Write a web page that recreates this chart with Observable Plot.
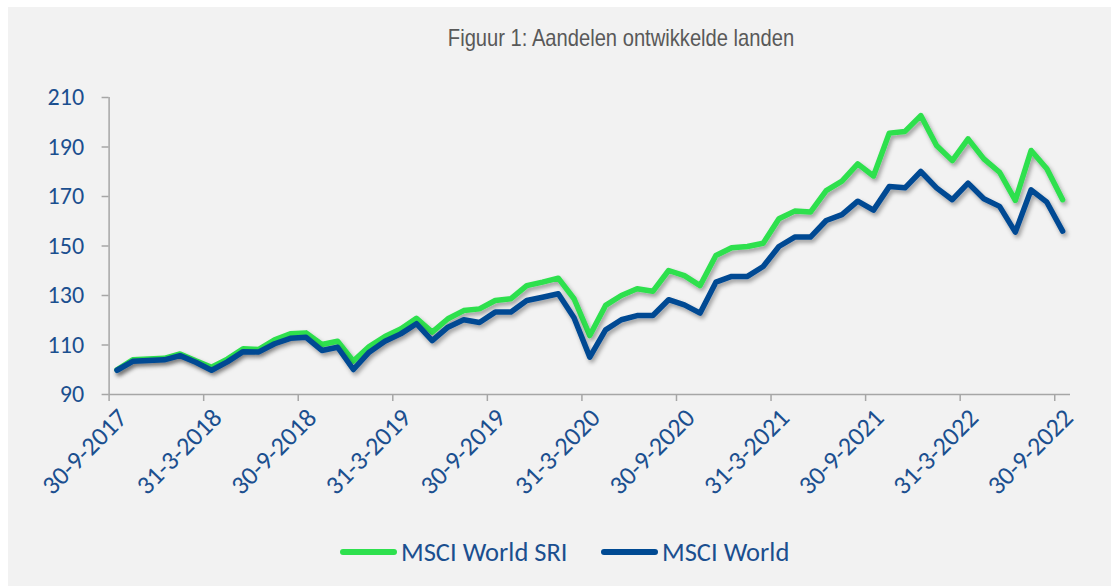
<!DOCTYPE html>
<html><head><meta charset="utf-8">
<script src="https://cdn.jsdelivr.net/npm/d3@7"></script>
<script src="https://cdn.jsdelivr.net/npm/@observablehq/plot@0.6"></script>
<style>
html,body{margin:0;padding:0;background:#fff;width:1111px;height:586px;overflow:hidden;}
#frame{position:absolute;left:8px;top:7px;width:1103px;height:579px;background:#f2f2f2;}
#title{position:absolute;left:621px;top:24px;transform:translateX(-50%) scaleX(0.84);white-space:nowrap;font-family:"Liberation Sans",Arial,sans-serif;font-size:24px;color:#595959;}
#chart{position:absolute;left:0;top:0;}
#legend{position:absolute;top:0;left:0;font-family:Carlito,Lato,"Open Sans",sans-serif;font-size:26.5px;color:#1b4f8f;}
.item{position:absolute;top:536px;display:flex;align-items:center;white-space:nowrap;}
.sw{width:57px;height:6px;border-radius:3px;margin-right:4px;}
</style></head>
<body>
<div id="frame"></div>
<div id="title">Figuur 1: Aandelen ontwikkelde landen</div>
<div id="chart"></div>
<div id="legend"></div>
<script>
const seriesNames = ["MSCI World SRI", "MSCI World"];
const seriesColors = ["#2ee04e", "#004a93"];
const tickLabels = ["30-9-2017","31-3-2018","30-9-2018","31-3-2019","30-9-2019","31-3-2020","30-9-2020","31-3-2021","30-9-2021","31-3-2022","30-9-2022"];
const yTicks = [90,110,130,150,170,190,210];
const sri = [100,104,104.3,104.6,106.4,103.6,101,104.3,108.5,108.2,112.1,114.5,114.9,110.2,111.5,103.5,109.4,113.4,116.5,120.8,115.2,120.6,123.9,124.6,128,128.7,134,135.4,137,128.7,113.8,126,130,132.7,131.7,140.1,138,134,146.2,149.3,149.8,151.1,161,164.1,163.7,172.4,176.2,183.2,178.3,195.6,196.3,202.7,190.6,184.5,193.3,185.2,179.8,168.4,188.6,181.2,168.7];
const world = [99.8,103.4,103.7,104,105.7,103,99.8,103.2,107.3,107.2,110.5,112.7,113.1,107.8,109.1,100.1,107.1,111.5,114.5,118.6,111.8,117.2,120.2,119.1,123.3,123.3,128,129.3,130.7,121,105.1,116.1,120.2,121.9,121.9,128.3,126.2,122.9,135.4,137.7,137.7,141.7,149.8,153.6,153.6,160.3,162.7,168.1,164.5,174,173.5,180.1,173.5,168.7,175.4,169.1,166,155.6,172.7,167.7,156];

const n = sri.length;
const tickIdx = tickLabels.map((_, k) => k * 6);
const grey = "#a6a6a6";
const textColor = "#1b4f8f";
const font = "Carlito, Lato, 'Open Sans', sans-serif";

const svg = Plot.plot({
  width: 1111, height: 500,
  marginTop: 97, marginBottom: 106, marginLeft: 108.6, marginRight: 41,
  x: {domain: [-0.5, n - 0.5]},
  y: {domain: [90, 210]},
  style: {background: "transparent", fontFamily: font, fontSize: "24px", color: textColor, overflow: "visible"},
  marks: [
    Plot.axisY({ticks: yTicks, tickSize: 7, tickPadding: 18, stroke: grey, strokeWidth: 1.5, fill: textColor, fontSize: 24, label: null}),
    Plot.axisX({ticks: tickIdx.map(i => i - 0.5), tickSize: 7, tickFormat: () => "", stroke: grey, strokeWidth: 1.5, label: null}),
    Plot.axisX({ticks: tickIdx, tickSize: 0, tickPadding: 19, tickRotate: -45, tickFormat: d => tickLabels[Math.round(d / 6)], fill: textColor, fontSize: 26, dx: 6, label: null}),
    Plot.ruleY([90], {stroke: grey, strokeWidth: 1.5}),
    Plot.ruleX([-0.5], {stroke: grey, strokeWidth: 1.5}),
    Plot.line(sri, {x: (d, i) => i, y: d => d, stroke: seriesColors[0], strokeWidth: 5.5, strokeLinejoin: "round", strokeLinecap: "round"}),
    Plot.line(world, {x: (d, i) => i, y: d => d, stroke: seriesColors[1], strokeWidth: 5.5, strokeLinejoin: "round", strokeLinecap: "round"})
  ]
});
const s = d3.select(svg);
const f = s.insert("defs", ":first-child").append("filter").attr("id", "sh")
  .attr("x", "-10%").attr("y", "-10%").attr("width", "120%").attr("height", "130%");
f.append("feDropShadow").attr("dx", 2).attr("dy", 3).attr("stdDeviation", 2)
  .attr("flood-color", "#000").attr("flood-opacity", 0.35);
s.selectAll('g[aria-label="line"]').attr("filter", "url(#sh)");
document.getElementById("chart").appendChild(svg);

const leg = d3.select("#legend");
const legX = [340, 601];
seriesNames.forEach((name, k) => {
  const it = leg.append("div").attr("class", "item").style("left", legX[k] + "px");
  it.append("div").attr("class", "sw").style("background", seriesColors[k]);
  it.append("span").text(name);
});
</script>
</body></html>
